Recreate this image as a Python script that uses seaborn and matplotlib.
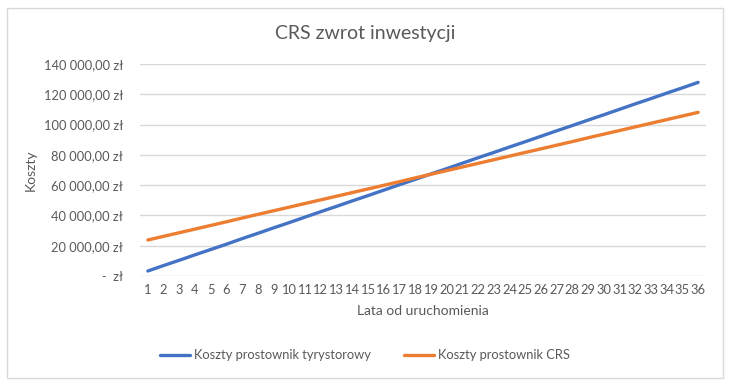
import matplotlib
matplotlib.use("Agg")
import matplotlib.pyplot as plt
import matplotlib.ticker as mticker
from matplotlib.patches import Rectangle
import seaborn as sns
import pandas as pd

# Values (zł per year since start-up)
years = list(range(1, 37))
koszty_tyrystorowy = [3300, 6900, 10400, 14000, 17500, 21000, 24700, 28200, 31800, 35300,
                      38900, 42500, 46000, 49600, 53100, 56700, 60300, 63800, 67400, 70900,
                      74500, 78100, 81600, 85200, 88700, 92300, 95900, 99400, 103000, 106500,
                      110100, 113700, 117200, 120800, 124300, 127900]
koszty_crs = [23800, 26200, 28600, 31000, 33400, 35800, 38300, 40700, 43100, 45500,
              47900, 50300, 52700, 55100, 57500, 59900, 62300, 64800, 67200, 69600,
              72000, 74400, 76800, 79200, 81600, 84000, 86400, 88800, 91300, 93700,
              96100, 98500, 100900, 103300, 105700, 108100]
series_names = ["Koszty prostownik tyrystorowy", "Koszty prostownik CRS"]
colors = ["#4472C4", "#ED7D31"]

df = pd.DataFrame({
    "Lata": years * 2,
    "Koszty": koszty_tyrystorowy + koszty_crs,
    "Seria": [series_names[0]] * len(years) + [series_names[1]] * len(years),
})

sns.set_style("white")
plt.rcParams["font.family"] = ["Lato", "DejaVu Sans"]
text_gray = "#595959"

fig = plt.figure(figsize=(7.3, 3.86), dpi=100)
ax = fig.add_axes([0.1918, 0.285, 0.7753, 0.549])

sns.lineplot(data=df, x="Lata", y="Koszty", hue="Seria", palette=colors,
             linewidth=2.4, ax=ax, legend=False)

# y axis: Polish currency format
def zl(v, pos):
    if v == 0:
        return "-  zł"
    return f"{v:,.2f}".replace(",", " ").replace(".", ",") + " zł"

ax.set_ylim(0, 140000)
ax.yaxis.set_major_locator(mticker.MultipleLocator(20000))
ax.yaxis.set_major_formatter(mticker.FuncFormatter(zl))
ax.set_xlim(0.5, 36.5)
ax.set_xticks(years)
ax.tick_params(axis="both", length=0, labelsize=9.3, colors=text_gray)
ax.tick_params(axis="y", pad=12)
ax.tick_params(axis="x", pad=6)
ax.grid(axis="y", color="#D9D9D9", linewidth=1)
ax.set_axisbelow(True)
for s in ax.spines.values():
    s.set_visible(False)

ax.set_xlabel("Lata od uruchomienia", fontsize=10, color=text_gray, labelpad=6)
ax.set_ylabel("Koszty", fontsize=10, color=text_gray, labelpad=5)
fig.text(0.5, 0.912, "CRS zwrot inwestycji", ha="center", va="center",
         fontsize=14, color=text_gray)

# legend below the plot
handles = [plt.Line2D([], [], color=c, linewidth=2.4) for c in colors]
fig.legend(handles, series_names, loc="center", bbox_to_anchor=(0.5, 0.08), ncol=2,
           frameon=False, fontsize=9.3, labelcolor=text_gray, handlelength=2.3,
           handletextpad=0.3, columnspacing=2.6)

# chart area border
fig.patches.append(Rectangle((0.01, 0.02), 0.98, 0.96, transform=fig.transFigure,
                             fill=False, edgecolor="#D9D9D9", linewidth=1))

fig.savefig("out.png", dpi=100)
